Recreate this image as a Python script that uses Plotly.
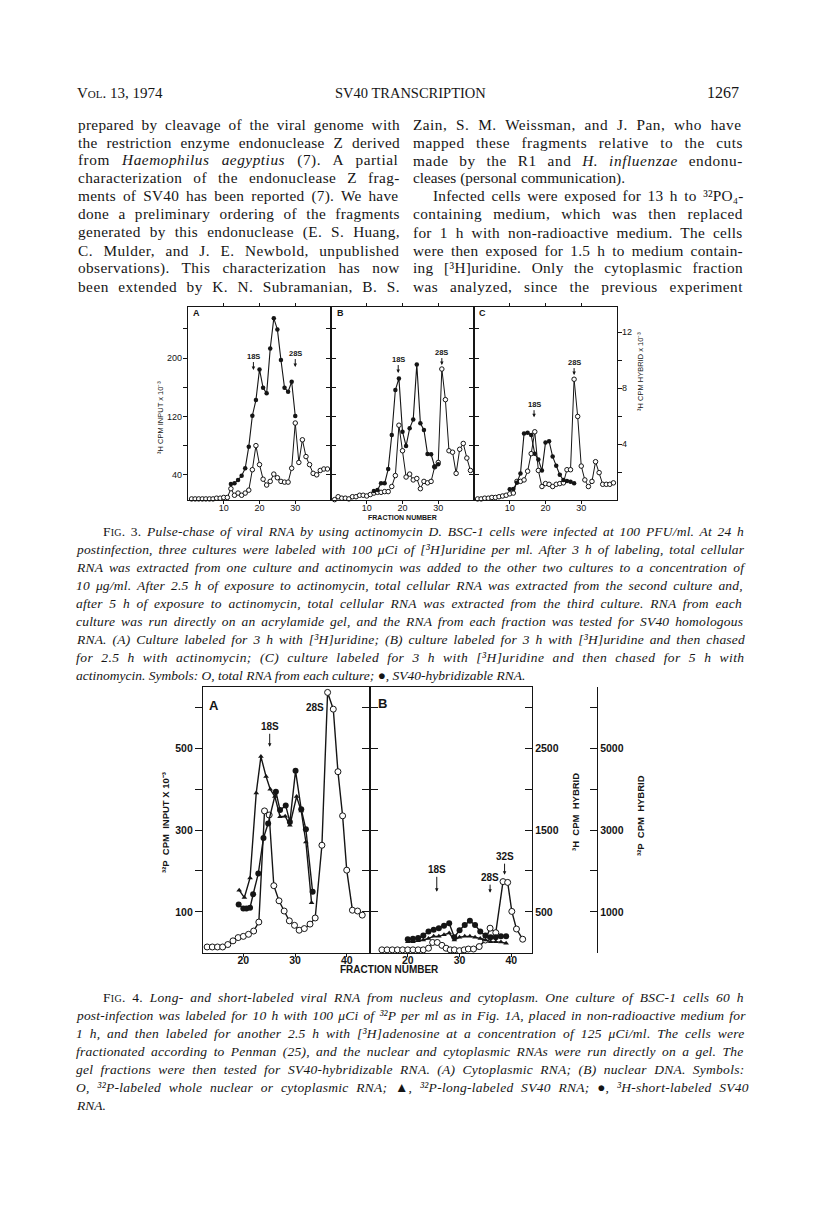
import re
import plotly.graph_objects as go

W, H = 816, 1211
OFF = 8  # default body margin of the html page
def X(px): return (px - OFF) / W
def Y(py): return 1 - (py - OFF) / H

INK = "#151515"

# ---------------- Figure 3 data (fraction number vs CPM) ----------------
fig3_fraction_total = list(range(1, 40))
fig3a_total = [7, 7, 7, 7, 7, 7, 7, 8, 8, 9, 9, 21, 12, 15, 12, 15, 19, 47, 80, 54,
               34, 26, 31, 41, 36, 31, 30, 30, 49, 111, 57, 88, 65, 54, 42, 40, 46, 48, 48]
fig3b_total = [6, 10, 8, 8, 7, 10, 10, 12, 12, 11, 13, 15, 16, 16, 17, 17, 24, 39, 108, 73,
               37, 41, 33, 35, 21, 31, 29, 31, 51, 57, 185, 143, 73, 71, 42, 75, 83, 63, 46]
fig3c_total = [7, 7, 8, 8, 9, 9, 10, 11, 12, 14, 15, 31, 31, 33, 45, 69, 99, 46, 24, 28,
               27, 24, 27, 28, 29, 47, 47, 171, 120, 52, 33, 24, 31, 58, 43, 27, 27, 27, 29]
fig3ab_fraction_hybrid = list(range(12, 31))
fig3a_hybrid = [1.14, 1.19, 1.43, 1.74, 2.26, 3.81, 6.02, 7.14, 9.33, 8.02, 7.62, 10.83,
                12.98, 12.19, 10.0, 8.02, 7.74, 8.45, 6.0]
fig3b_hybrid = [0.64, 0.71, 1.19, 1.19, 2.21, 4.64, 7.86, 8.69, 4.88, 3.86, 5.12, 5.76,
                9.69, 5.48, 5.0, 3.29, 3.26, 2.38, 2.55]
fig3c_fraction_hybrid = list(range(10, 29))
fig3c_hybrid = [0.76, 0.79, 1.24, 1.9, 4.76, 4.8, 4.64, 3.3, 2.9, 2.1, 4.1, 4.2, 3.1,
                2.45, 1.8, 1.43, 1.36, 1.3, 1.2]
fig3_x_ticks = [10, 20, 30]
fig3_left_ticks = [40, 120, 200]
fig3_left_minor = [80, 160, 240]
fig3_right_ticks = [4, 8, 12]
fig3_right_minor = [2, 6, 10]

# ---------------- Figure 4 data ----------------
fig4a_fraction_total = [13, 14, 15, 16, 17, 18, 19, 20, 21, 22, 23, 24.1, 25, 25.9, 26.9, 27.9,
                        28.9, 29.9, 30.8, 31.8, 32.9, 33.9, 35.2, 36.3, 37.4, 38.3, 39.2, 40,
                        41.1, 42.1, 43]
fig4a_total = [14, 14, 14, 14, 20, 29, 37, 40, 45, 53, 75, 347, 337, 164, 127, 102, 78, 67, 55,
               59, 70, 85, 263, 637, 596, 443, 335, 202, 104, 102, 92]
fig4a_fraction_long = [19.2, 20.2, 21.3, 22.5, 23.4, 24.4, 25.2, 26.1, 27.1, 28.1, 29, 30.3,
                       31.2, 32.1, 33.2]
fig4a_long_32p = [1530, 1350, 1830, 3910, 4800, 4310, 4000, 3820, 3330, 3340, 3120, 3820,
                  3470, 2710, 1220]
fig4a_fraction_short = [19.1, 20, 20.6, 21.3, 21.9, 22.9, 23.9, 24.8, 26.3, 27.1, 28.2, 29,
                        30.1, 31.2, 32.1, 33.4]
fig4a_short_3h = [590, 540, 540, 550, 715, 970, 1405, 1580, 1970, 1745, 1800, 1600, 2225,
                  1755, 1510, 745]

fig4b_fraction_total = [15, 16, 17, 18, 19, 20, 21, 22, 23, 24, 24.8, 25.7, 26.6, 27.4, 28.2,
                        29, 30, 30.9, 31.7, 32.7, 33.8, 35, 35.9, 37, 38.4, 39.3, 40.1, 41, 42.2]
fig4b_total = [7, 7, 7, 7, 7, 7, 7, 7, 7, 11, 25, 25, 18, 11, 7, 7, 5, 7, 9, 9, 15, 31, 60, 49,
               174, 172, 101, 58, 33]
fig4b_fraction_hybrid = list(range(20, 40))
fig4b_short_3h = [165, 170, 180, 210, 260, 280, 300, 330, 360, 190, 275, 340, 390, 340, 260,
                  210, 190, 190, 200, 200]
fig4b_long_32p = [270, 270, 290, 310, 350, 400, 400, 440, 480, 310, 380, 400, 400, 380, 350,
                  310, 270, 270, 260, 230]

fig4_x_ticks = [20, 30, 40]
fig4_left_ticks = [100, 300, 500]
fig4_left_minor = [200, 400, 600]
fig4_3h_ticks = [500, 1500, 2500]
fig4_3h_minor = [1000, 2000, 3000]
fig4_32p_ticks = [1000, 3000, 5000]
fig4_32p_minor = [2000, 4000, 6000]

# ---------------- text ----------------
header_left = "V<span style='font-size:11px'>OL</span>. 13, 1974"
header_mid = "SV40 TRANSCRIPTION"
header_right = "1267"

left_col = [
    "prepared by cleavage of the viral genome with",
    "the restriction enzyme endonuclease Z derived",
    "from <i>Haemophilus aegyptius</i> (7). A partial",
    "characterization of the endonuclease Z frag-",
    "ments of SV40 has been reported (7). We have",
    "done a preliminary ordering of the fragments",
    "generated by this endonuclease (E. S. Huang,",
    "C. Mulder, and J. E. Newbold, unpublished",
    "observations). This characterization has now",
    "been extended by K. N. Subramanian, B. S.",
]
right_col = [
    "Zain, S. M. Weissman, and J. Pan, who have",
    "mapped these fragments relative to the cuts",
    "made by the R1 and <i>H. influenzae</i> endonu-",
    "cleases (personal communication).",
    "Infected cells were exposed for 13 h to ³²PO₄-",
    "containing medium, which was then replaced",
    "for 1 h with non-radioactive medium. The cells",
    "were then exposed for 1.5 h to medium contain-",
    "ing [³H]uridine. Only the cytoplasmic fraction",
    "was analyzed, since the previous experiment",
]
SC = "<span style='font-style:normal'>F<span style='font-size:10px'>IG</span>. {}.</span>"
cap3 = [
    SC.format(3) + " Pulse-chase of viral RNA by using actinomycin D. BSC-1 cells were infected at 100 PFU/ml. At 24 h",
    "postinfection, three cultures were labeled with 100 μCi of [³H]uridine per ml. After 3 h of labeling, total cellular",
    "RNA was extracted from one culture and actinomycin was added to the other two cultures to a concentration of",
    "10 μg/ml. After 2.5 h of exposure to actinomycin, total cellular RNA was extracted from the second culture and,",
    "after 5 h of exposure to actinomycin, total cellular RNA was extracted from the third culture. RNA from each",
    "culture was run directly on an acrylamide gel, and the RNA from each fraction was tested for SV40 homologous",
    "RNA. (A) Culture labeled for 3 h with [³H]uridine; (B) culture labeled for 3 h with [³H]uridine and then chased",
    "for 2.5 h with actinomycin; (C) culture labeled for 3 h with [³H]uridine and then chased for 5 h with",
    "actinomycin. Symbols: O, total RNA from each culture; ●, SV40-hybridizable RNA.",
]
cap4 = [
    SC.format(4) + " Long- and short-labeled viral RNA from nucleus and cytoplasm. One culture of BSC-1 cells 60 h",
    "post-infection was labeled for 10 h with 100 μCi of ³²P per ml as in Fig. 1A, placed in non-radioactive medium for",
    "1 h, and then labeled for another 2.5 h with [³H]adenosine at a concentration of 125 μCi/ml. The cells were",
    "fractionated according to Penman (25), and the nuclear and cytoplasmic RNAs were run directly on a gel. The",
    "gel fractions were then tested for SV40-hybridizable RNA. (A) Cytoplasmic RNA; (B) nuclear DNA. Symbols:",
    "O, ³²P-labeled whole nuclear or cytoplasmic RNA; ▲, ³²P-long-labeled SV40 RNA; ●, ³H-short-labeled SV40",
    "RNA.",
]

# ---------------- Times metrics (Liberation Serif is metric compatible) ----------------
TR = dict(zip("abcdefghijklmnopqrstuvwxyz",
              [444, 500, 444, 500, 444, 333, 500, 500, 278, 278, 500, 278, 778, 500, 500, 500, 500,
               333, 389, 278, 500, 500, 722, 500, 500, 444]))
TR.update(zip("ABCDEFGHIJKLMNOPQRSTUVWXYZ",
              [722, 667, 667, 722, 611, 556, 722, 722, 333, 389, 722, 611, 889, 722, 722, 556, 722,
               667, 556, 611, 722, 722, 944, 722, 722, 611]))
TI = dict(zip("abcdefghijklmnopqrstuvwxyz",
              [500, 500, 444, 500, 444, 278, 500, 500, 278, 278, 444, 278, 722, 500, 500, 500, 500,
               389, 389, 278, 500, 444, 667, 444, 444, 389]))
TI.update(zip("ABCDEFGHIJKLMNOPQRSTUVWXYZ",
              [611, 611, 667, 722, 611, 611, 722, 722, 333, 444, 667, 556, 833, 667, 722, 611, 722,
               611, 500, 556, 722, 611, 833, 611, 556, 556]))
for t in (TR, TI):
    t.update({c: 500 for c in "0123456789"})
    t.update({" ": 250, ".": 250, ",": 250, "-": 333, "(": 333, ")": 333, "/": 278,
              "μ": 500, "●": 600, "▲": 700, "³": 300, "²": 300, "₄": 300})
TR.update({"[": 333, "]": 333, ":": 278, ";": 278})
TI.update({"[": 389, "]": 389, ":": 333, ";": 333})

TAG = re.compile(r"(<[^>]*>)")

def measure(s, size, italic):
    stack = [(italic, size)]
    w, spaces, chars = 0.0, 0, 0
    for part in TAG.split(s):
        if not part:
            continue
        if part.startswith("<"):
            if part.startswith("</"):
                if len(stack) > 1:
                    stack.pop()
                continue
            it, sz = stack[-1]
            name = part[1:].split()[0].rstrip(">").lower()
            if name == "i":
                it = True
            elif name == "span":
                m = re.search(r"font-size:\s*([\d.]+)px", part)
                if m:
                    sz = float(m.group(1))
                if "font-style:normal" in part:
                    it = False
            stack.append((it, sz))
            continue
        it, sz = stack[-1]
        table = TI if it else TR
        for ch in part:
            w += table.get(ch, 500) * sz / 1000.0
            chars += 1
            if ch == " ":
                spaces += 1
    return w, spaces, chars

annotations = []

def text_line(s, x0, yc, size, italic=False, width=None):
    body = "<i>" + s + "</i>" if italic else s
    if width is not None:
        nat, sp, nch = measure(body, size, False)
        extra = width - nat
        if extra > 0:
            ls = 0.35 * extra / nch
            ws = 0.65 * extra / sp if sp else 0
        else:
            ls = 0.0
            ws = extra / sp if sp else 0
        body = "<span style='word-spacing:%.2fpx;letter-spacing:%.3fpx'>%s</span>" % (ws, ls, body)
    annotations.append(dict(text=body, x=X(x0), y=Y(yc), xref="paper", yref="paper",
                            xanchor="left", yanchor="middle", showarrow=False,
                            font=dict(family="Liberation Serif", size=size, color=INK)))

# header
annotations.append(dict(text=header_left, x=X(75), y=Y(93), xref="paper", yref="paper",
                        xanchor="left", yanchor="middle", showarrow=False,
                        font=dict(family="Liberation Serif", size=15, color=INK)))
annotations.append(dict(text=header_mid, x=X(410), y=Y(93), xref="paper", yref="paper",
                        xanchor="center", yanchor="middle", showarrow=False,
                        font=dict(family="Liberation Serif", size=14.5, color=INK)))
annotations.append(dict(text=header_right, x=X(741), y=Y(93), xref="paper", yref="paper",
                        xanchor="right", yanchor="middle", showarrow=False,
                        font=dict(family="Liberation Serif", size=16, color=INK)))

BODY = 15.3
for i, s in enumerate(left_col):
    text_line(s, 76, 124 + 18 * i, BODY, width=322)
for i, s in enumerate(right_col):
    if i == 3:
        text_line(s, 411, 124 + 18 * i, BODY)
    elif i == 4:
        text_line(s, 431, 124 + 18 * i, BODY, width=310)
    else:
        text_line(s, 411, 124 + 18 * i, BODY, width=330)

CAP = 13.5
for i, s in enumerate(cap3):
    x0 = 101 if i == 0 else 74
    wid = None if i == len(cap3) - 1 else 743 - x0
    text_line(s, x0, 531 + 18 * i, CAP, italic=True, width=wid)
for i, s in enumerate(cap4):
    x0 = 101 if i == 0 else 74
    wid = None if i == len(cap4) - 1 else 743 - x0
    text_line(s, x0, 997 + 18 * i, CAP, italic=True, width=wid)

# ---------------- figure axes ----------------
f3_font = dict(family="Liberation Sans", size=9, color=INK)
f4_font = dict(family="Liberation Sans", size=10.5, color=INK, weight="bold")

F3_TOP, F3_BOT = 307, 500
F3_L = [5.5, 270]
F3_R = [0, 13.79]
F4_TOP, F4_BOT = 686.7, 952.7
F4_L = [0, 651]
F4_3H = [0, 3255]
F4_32P = [0, 6510]

def base_axis(**kw):
    d = dict(showgrid=False, zeroline=False, showline=True, linecolor=INK, linewidth=1.2,
             tickcolor=INK, tickwidth=1, fixedrange=True)
    d.update(kw)
    return d

def minor(vals, ticks, ln):
    return dict(tickvals=vals, ticks=ticks, ticklen=ln, tickcolor=INK, tickwidth=1, showgrid=False)

def hidden(over, anchor, rng):
    return dict(overlaying=over, anchor=anchor, range=rng, visible=False, fixedrange=True,
                showticklabels=False, ticks="", showline=False, showgrid=False, zeroline=False)

layout = dict(width=W, height=H, margin=dict(l=0, r=0, t=0, b=0), autosize=False,
              paper_bgcolor="white", plot_bgcolor="rgba(0,0,0,0)", showlegend=False)

f3_panels = [(188, 331), (331, 474), (474, 617)]
f3_ydom = [Y(F3_BOT), Y(F3_TOP)]
for k, (a, b) in enumerate(f3_panels, start=1):
    sfx = "" if k == 1 else str(k)
    layout["xaxis" + sfx] = base_axis(domain=[X(a), X(b)], range=[0, 40], anchor="y" + sfx,
                                      tickvals=fig3_x_ticks, ticks="outside", ticklen=3,
                                      mirror="ticks", tickfont=f3_font, ticklabelstandoff=-4)
layout["yaxis"] = base_axis(domain=f3_ydom, range=F3_L, anchor="x", tickvals=fig3_left_ticks,
                            ticks="outside", ticklen=4, mirror="ticks", tickfont=f3_font,
                            minor=minor(fig3_left_minor, "outside", 4), ticklabelstandoff=-1)
layout["yaxis2"] = base_axis(domain=f3_ydom, range=F3_L, anchor="x2",
                             tickvals=fig3_left_ticks + fig3_left_minor,
                             showticklabels=False, ticks="outside", ticklen=4, mirror="ticks")
layout["yaxis3"] = base_axis(domain=f3_ydom, range=F3_L, anchor="x3",
                             tickvals=fig3_left_ticks + fig3_left_minor,
                             showticklabels=False, ticks="outside", ticklen=4)
layout["yaxis4"] = hidden("y", "x", F3_R)
layout["yaxis5"] = hidden("y2", "x2", F3_R)
layout["yaxis6"] = base_axis(overlaying="y3", anchor="x3", side="right", range=F3_R,
                             tickvals=fig3_right_ticks, ticks="outside", ticklen=4,
                             tickfont=f3_font, minor=minor(fig3_right_minor, "outside", 4),
                             ticklabelstandoff=-2)

f4_ydom = [Y(F4_BOT), Y(F4_TOP)]
layout["xaxis4"] = base_axis(domain=[X(203), X(370)], range=[12.2, 44.5], anchor="y7",
                             tickvals=fig4_x_ticks, ticks="outside", ticklen=3, mirror=True,
                             tickfont=f4_font, ticklabelstandoff=-5)
layout["xaxis5"] = base_axis(domain=[X(370), X(532)], range=[12.7, 44.0], anchor="y8",
                             tickvals=fig4_x_ticks, ticks="outside", ticklen=3, mirror=True,
                             tickfont=f4_font, ticklabelstandoff=-5)
layout["yaxis7"] = base_axis(domain=f4_ydom, range=F4_L, anchor="x4", tickvals=fig4_left_ticks,
                             ticks="outside", ticklen=7, mirror="ticks", tickfont=f4_font,
                             minor=minor(fig4_left_minor, "outside", 7))
layout["yaxis8"] = base_axis(domain=f4_ydom, range=F4_L, anchor="x5",
                             tickvals=fig4_left_ticks + fig4_left_minor,
                             showticklabels=False, ticks="outside", ticklen=7)
layout["yaxis9"] = base_axis(overlaying="y8", anchor="x5", side="right", range=F4_3H,
                             tickvals=fig4_3h_ticks, ticks="inside", ticklen=7,
                             tickfont=f4_font, minor=minor(fig4_3h_minor, "inside", 7))
layout["yaxis10"] = base_axis(overlaying="y8", anchor="free", position=X(597), side="right",
                              range=F4_32P, tickvals=fig4_32p_ticks, ticks="inside", ticklen=7,
                              tickfont=f4_font, minor=minor(fig4_32p_minor, "inside", 7))
layout["yaxis11"] = hidden("y7", "x4", F4_3H)
layout["yaxis12"] = hidden("y7", "x4", F4_32P)

# ---------------- traces ----------------
traces = []
def series(x, y, xa, ya, kind, size, lw):
    if kind == "open":
        marker = dict(symbol="circle", size=size, color="white", line=dict(color=INK, width=1))
    elif kind == "tri":
        marker = dict(symbol="triangle-up", size=size, color=INK, line=dict(width=0))
    else:
        marker = dict(symbol="circle", size=size, color=INK, line=dict(width=0))
    traces.append(go.Scatter(x=x, y=y, xaxis=xa, yaxis=ya, mode="lines+markers",
                             line=dict(color=INK, width=lw), marker=marker,
                             cliponaxis=False, hoverinfo="skip"))

series(fig3ab_fraction_hybrid, fig3a_hybrid, "x", "y4", "fill", 4.5, 1.1)
series(fig3_fraction_total, fig3a_total, "x", "y", "open", 4.5, 1.0)
series(fig3ab_fraction_hybrid, fig3b_hybrid, "x2", "y5", "fill", 4.5, 1.1)
series(fig3_fraction_total, fig3b_total, "x2", "y2", "open", 4.5, 1.0)
series(fig3c_fraction_hybrid, fig3c_hybrid, "x3", "y6", "fill", 4.5, 1.1)
series(fig3_fraction_total, fig3c_total, "x3", "y3", "open", 4.5, 1.0)

series(fig4a_fraction_long, fig4a_long_32p, "x4", "y12", "tri", 5, 1.4)
series(fig4a_fraction_short, fig4a_short_3h, "x4", "y11", "fill", 6, 1.4)
series(fig4a_fraction_total, fig4a_total, "x4", "y7", "open", 6, 1.4)
series(fig4b_fraction_hybrid, fig4b_long_32p, "x5", "y10", "tri", 5, 1.4)
series(fig4b_fraction_hybrid, fig4b_short_3h, "x5", "y9", "fill", 6, 1.4)
series(fig4b_fraction_total, fig4b_total, "x5", "y8", "open", 6, 1.4)

# ---------------- figure labels ----------------
def lab(text, x, y, size, bold=False, angle=0, anchor="center"):
    annotations.append(dict(text="<b>%s</b>" % text if bold else text, x=X(x), y=Y(y),
                            xref="paper", yref="paper", xanchor=anchor, yanchor="middle",
                            showarrow=False, textangle=angle,
                            font=dict(family="Liberation Sans", size=size, color=INK)))

def peak(text, xref, yref, x, y, ay, size, bold=False, arrow=True):
    annotations.append(dict(text="<b>%s</b>" % text if bold else text, x=x, y=y, xref=xref,
                            yref=yref, showarrow=arrow, ax=0, ay=ay, arrowhead=2,
                            arrowsize=0.7, arrowwidth=1, arrowcolor=INK, standoff=0,
                            font=dict(family="Liberation Sans", size=size, color=INK)))

lab("A", 196, 313, 9, True)
lab("B", 340, 313, 9, True)
lab("C", 482, 313, 9, True)
lab("FRACTION NUMBER", 402, 518, 7, True)
lab("³H CPM INPUT x 10⁻³", 160, 418, 7.5, False, -90)
lab("³H CPM HYBRID x 10⁻³", 640, 372, 7.5, False, -90)

peak("18S", "x", "y", 18.3, 183.6, -14, 7.5, True)
peak("28S", "x", "y", 30.0, 187.7, -14, 7.5, True)
peak("18S", "x2", "y2", 18.8, 179.5, -14, 7.5, True)
peak("28S", "x2", "y2", 31.0, 190.4, -13, 7.5, True)
peak("28S", "x3", "y3", 28.0, 176.7, -13, 7.5, True)
peak("18S", "x3", "y3", 16.8, 119.0, -13, 7.5, True)

lab("A", 214, 705, 13, True)
lab("B", 382, 704, 13, True)
lab("FRACTION NUMBER", 389, 970, 10, True)
lab("³²P  CPM  INPUT X 10⁻³", 165, 823, 9.5, True, -90)
lab("³H  CPM  HYBRID", 575, 812, 9.5, True, -90)
lab("³²P  CPM  HYBRID", 640, 816, 9.5, True, -90)

peak("18S", "x4", "y7", 25.1, 504, -20, 10, True)
peak("28S", "x4", "y7", 33.9, 600, 0, 10, True, arrow=False)
peak("18S", "x5", "y8", 25.6, 149, -22, 10, True)
peak("28S", "x5", "y8", 35.9, 147, -15, 10, True)
peak("32S", "x5", "y8", 38.7, 191, -18, 10, True)

layout["annotations"] = annotations
fig = go.Figure(data=traces, layout=layout)
fig.write_html("out.html", config=dict(displayModeBar=False))
